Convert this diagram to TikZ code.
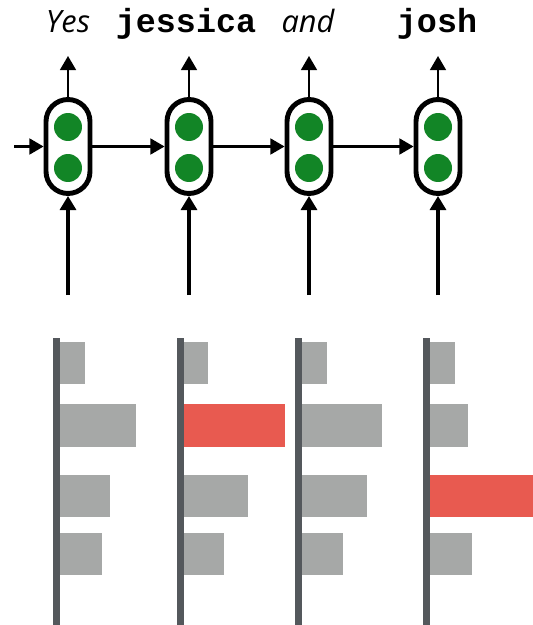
\documentclass[tikz,border=0pt]{standalone}
\usepackage{fontspec}
\setsansfont{Open Sans}
\setmonofont{Liberation Mono}
\usetikzlibrary{arrows.meta}

\definecolor{unitgreen}{RGB}{18,133,38}
\definecolor{bargray}{RGB}{166,168,167}
\definecolor{barred}{RGB}{232,90,80}
\definecolor{axisgray}{RGB}{84,88,92}

\tikzset{
    cell/.style={draw, line width=2.8pt, fill=white, rectangle,
        minimum width=0.88cm, minimum height=1.88cm, rounded corners=0.44cm},
    unit/.style={circle, fill=unitgreen, inner sep=0pt, minimum size=0.56cm},
    flow/.style={line width=1.2pt, -{Triangle[width=9pt,length=8pt]}},
    feed/.style={line width=2pt, -{Triangle[width=9pt,length=8pt]}},
    word/.style={anchor=base, inner sep=0pt, font=\fontsize{17.5}{20}\selectfont\sffamily\itshape},
    token/.style={anchor=base, inner sep=0pt, font=\fontsize{19}{22}\selectfont\ttfamily\bfseries},
}

\begin{document}
\begin{tikzpicture}[x=0.02cm, y=-0.02cm]
    \useasboundingbox (0,0) rectangle (533,625);

    % Recurrent cells with two hidden units each
    \foreach \i/\x in {1/68, 2/189, 3/309, 4/438} {
        \node[cell] (cell\i) at (\x,146.5) {};
        \node[unit] (up\i) at (\x,127) {};
        \node[unit] (down\i) at (\x,168) {};
        \coordinate (out\i) at (\x,56);
        \coordinate (in\i) at (\x,295);
        \draw[flow] (cell\i.north) -- (out\i);
        \draw[feed] (in\i) -- (cell\i.south);
    }

    % Hidden state passed along the sequence
    \coordinate (start) at (14,146.5);
    \draw[flow] (start) -- (cell1.west);
    \draw[flow] (cell1.east) -- (cell2.west);
    \draw[flow] (cell2.east) -- (cell3.west);
    \draw[flow] (cell3.east) -- (cell4.west);

    % Predicted words
    \node[word] (word1) at (68,33) {Yes};
    \node[token] (word2) at (186,33) {jessica};
    \node[word] (word3) at (308,33) {and};
    \node[token] (word4) at (437,33) {josh};

    % Output distributions, red bar is the chosen word
    \foreach \a/\ea/\eb/\ec/\ed/\hot in {56/85/136/110/102/0,
                                         180/208/285/248/224/2,
                                         298/327/382/367/343/0,
                                         426/455/468/533/472/3} {
        \foreach \k/\top/\bot/\e in {1/342/384/\ea, 2/404/447/\eb, 3/475/517/\ec, 4/533/575/\ed} {
            \ifnum\k=\hot
                \fill[barred] (\a,\top) rectangle (\e,\bot);
            \else
                \fill[bargray] (\a,\top) rectangle (\e,\bot);
            \fi
        }
        \fill[axisgray] (\a-3.5,338) rectangle (\a+3.5,625);
    }
\end{tikzpicture}
\end{document}
